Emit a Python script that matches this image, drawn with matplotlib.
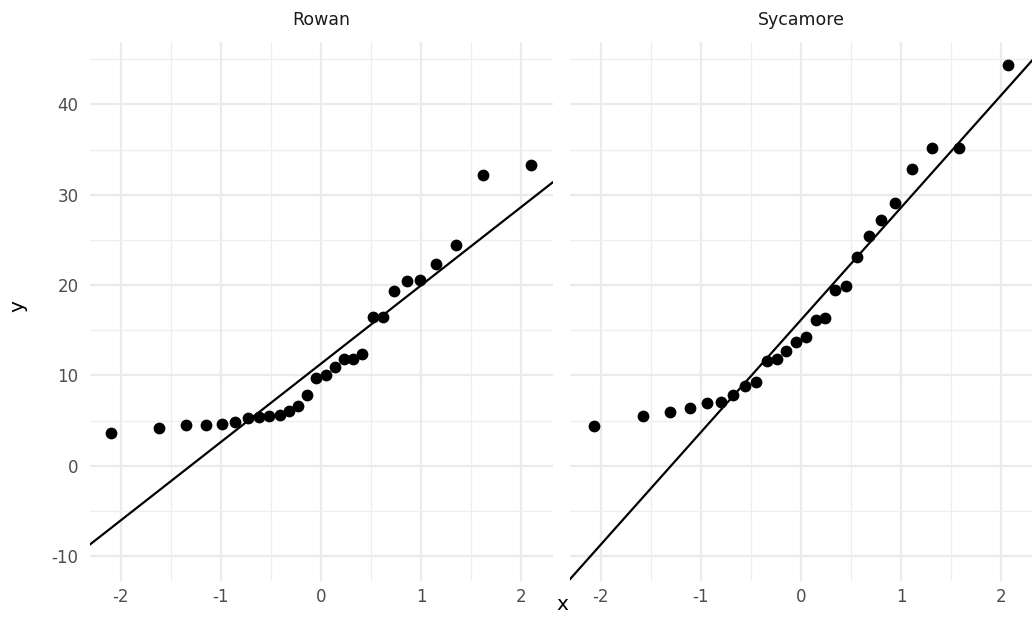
import matplotlib
matplotlib.use("Agg")
import matplotlib.pyplot as plt
from matplotlib.ticker import MultipleLocator, FixedLocator

plt.rcParams["font.family"] = ["DejaVu Sans"]
plt.rcParams["axes.unicode_minus"] = False

# Facet labels
panels = ["Rowan", "Sycamore"]

# Theoretical normal quantiles and sorted sample values per facet
rowan_theory = [-2.100, -1.613, -1.345, -1.150, -0.992, -0.855, -0.732, -0.619,
                -0.514, -0.414, -0.319, -0.226, -0.135, -0.045, 0.045, 0.135,
                0.226, 0.319, 0.414, 0.514, 0.619, 0.732, 0.855, 0.992,
                1.150, 1.345, 1.613, 2.100]
rowan_sample = [3.6, 4.2, 4.5, 4.5, 4.65, 4.9, 5.3, 5.4, 5.55, 5.6, 6.05, 6.6,
                7.8, 9.7, 10.0, 10.9, 11.8, 11.8, 12.4, 16.5, 16.5, 19.3, 20.4,
                20.6, 22.3, 24.4, 32.2, 33.3]

sycamore_theory = [-2.070, -1.574, -1.304, -1.105, -0.942, -0.801, -0.674,
                   -0.558, -0.448, -0.344, -0.243, -0.145, -0.048, 0.048,
                   0.145, 0.243, 0.344, 0.448, 0.558, 0.674, 0.801, 0.942,
                   1.105, 1.304, 1.574, 2.070]
sycamore_sample = [4.35, 5.5, 6.0, 6.4, 7.0, 7.1, 7.8, 8.8, 9.3, 11.6, 11.85,
                   12.7, 13.7, 14.3, 16.1, 16.4, 19.4, 19.9, 23.1, 25.4, 27.2,
                   29.1, 32.9, 35.2, 35.2, 44.4]

# Reference lines (intercept, slope)
qq_lines = [(11.3, 8.68), (16.15, 12.45)]

x_ticks = [-2, -1, 0, 1, 2]
y_ticks = [-10, 0, 10, 20, 30, 40]
x_lim = (-2.31, 2.31)
y_lim = (-12.75, 46.9)

W, H = 1032, 640
fig = plt.figure(figsize=(W / 100, H / 100), dpi=100)
fig.patch.set_facecolor("white")

top_px, bottom_px = 42, 581
panel_px = [(89.5, 552.5), (569.5, 1032.5)]

series = [(rowan_theory, rowan_sample), (sycamore_theory, sycamore_sample)]

grid_major = "#ebebeb"
for i, (name, (xs, ys), (b0, b1), (l, r)) in enumerate(
        zip(panels, series, qq_lines, panel_px)):
    ax = fig.add_axes([l / W, (H - bottom_px) / H, (r - l) / W,
                       (bottom_px - top_px) / H])
    ax.set_xlim(*x_lim)
    ax.set_ylim(*y_lim)
    ax.set_facecolor("white")
    for s in ax.spines.values():
        s.set_visible(False)
    ax.xaxis.set_major_locator(FixedLocator(x_ticks))
    ax.yaxis.set_major_locator(FixedLocator(y_ticks))
    ax.xaxis.set_minor_locator(MultipleLocator(0.5))
    ax.yaxis.set_minor_locator(MultipleLocator(5))
    ax.grid(which="major", color=grid_major, linewidth=1.6)
    ax.grid(which="minor", color="#eeeeee", linewidth=0.9)
    ax.set_axisbelow(True)
    ax.tick_params(which="both", length=0, labelsize=12,
                   labelcolor="#4d4d4d")
    ax.tick_params(axis="y", pad=8)
    ax.tick_params(axis="x", pad=5)
    if i > 0:
        ax.tick_params(axis="y", labelleft=False)

    ax.scatter(xs, ys, s=72, color="black", linewidths=0, zorder=3)
    ax.plot(list(x_lim), [b0 + b1 * x_lim[0], b0 + b1 * x_lim[1]],
            color="black", linewidth=1.6, zorder=2, clip_on=True)

    ax.text(0.5, 1.0 + 22 / (bottom_px - top_px), name,
            transform=ax.transAxes, ha="center", va="center",
            fontsize=12.5, color="#1a1a1a")

fig.text(562 / W, 1 - 605 / H, "x", ha="center", va="center", fontsize=14.5)
fig.text(18 / W, 1 - 306 / H, "y", ha="center", va="center", fontsize=14.5,
         rotation=90)

fig.savefig("out.png", dpi=100, facecolor="white")
